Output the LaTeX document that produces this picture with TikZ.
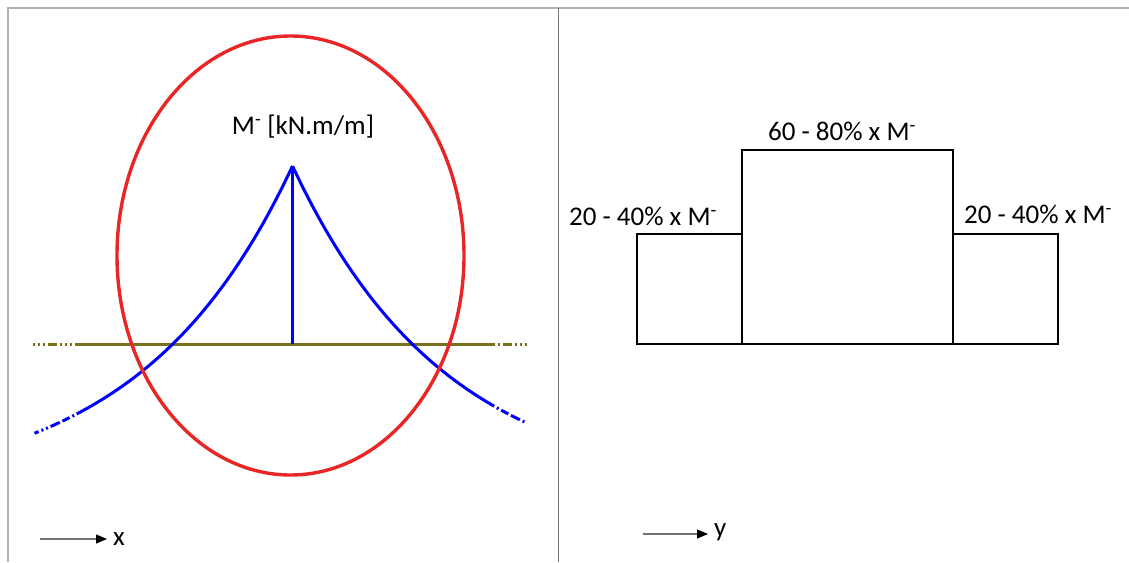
\documentclass[tikz,border=0pt]{standalone}
\usepackage{fontspec}
\setmainfont{Carlito}
\usetikzlibrary{positioning,arrows.meta}
\newcommand{\Mneg}{M\textsuperscript{-}}
\tikzset{
  frm/.style={line width=2pt,black!30},
  sep/.style={line width=0.8pt,black!55},
  ring/.style={line width=3.4pt,draw=red!90!black!85!white},
  mline/.style={line width=3pt,blue},
  mdash/.style={line width=3pt,blue,dash pattern=on 2pt off 3pt on 2pt off 3pt on 8pt off 3pt on 10pt off 3pt},
  axisl/.style={line width=3pt,olive!80!black},
  axisd/.style={line width=3pt,olive!80!black,dash pattern=on 2pt off 3pt on 2pt off 3pt on 2pt off 3pt on 9pt off 3pt},
  strip/.style={line width=1.6pt,black},
  dirarr/.style={-{Triangle[length=11pt,width=9pt,color=black]},line width=1.1pt,black!55},
  lbl/.style={font=\fontsize{27}{31}\selectfont,inner sep=0pt},
}
\begin{document}
\begin{tikzpicture}[x=1pt,y=-1pt]
  \useasboundingbox (0,0) rectangle (1129,562);
  % frame
  \draw[frm] (8,562) -- (8,8) -- (1129,8);
  \draw[sep] (558,8) -- (558,562);
  % moment diagram along x
  \coordinate (top) at (292.5,166);
  \coordinate (foot) at (292.5,344);
  \draw[axisd] (33,344) -- (77,344);
  \draw[axisl] (77,344) -- (495,344);
  \draw[axisd] (527,344) -- (495,344);
  \draw[mline] (top) -- (foot);
  \draw[mline] plot[domain=0:214,samples=80] ({292.5-\x},{344-(328*exp(-\x/153)-150)});
  \draw[mline] plot[domain=0:200,samples=80] ({292.5+\x},{344-(328*exp(-\x/153)-150)});
  \draw[mdash] plot[domain=214:258,samples=20] ({292.5-\x},{344-(328*exp(-\x/153)-150)});
  \draw[mdash] plot[domain=200:233,samples=20] ({292.5+\x},{344-(328*exp(-\x/153)-150)});
  \draw[ring] (290.5,255.5) ellipse [x radius=173.5,y radius=219.5];
  \node[lbl] (mlab) at (303,127) {\Mneg\ [kN.m/m]};
  % distribution across y
  \draw[strip] (637,344) rectangle (742,234);
  \draw[strip] (742,344) rectangle (953,150);
  \draw[strip] (953,344) rectangle (1058,234);
  \node[lbl] (cmid) at (842,131) {60 - 80\% x \Mneg};
  \node[lbl] (cleft) at (643,216) {20 - 40\% x \Mneg};
  \node[lbl] (cright) at (1038,214) {20 - 40\% x \Mneg};
  % directions
  \coordinate (xs) at (40,539);
  \node[lbl,anchor=west] (xl) at (113,539) {x};
  \draw[dirarr] (xs) -- ([xshift=-6pt]xl.west);
  \coordinate (ys) at (643,534);
  \node[lbl,anchor=west] (yl) at (714,532) {y};
  \draw[dirarr] (ys) -- ([xshift=-6pt]yl.west |- ys);
\end{tikzpicture}
\end{document}
